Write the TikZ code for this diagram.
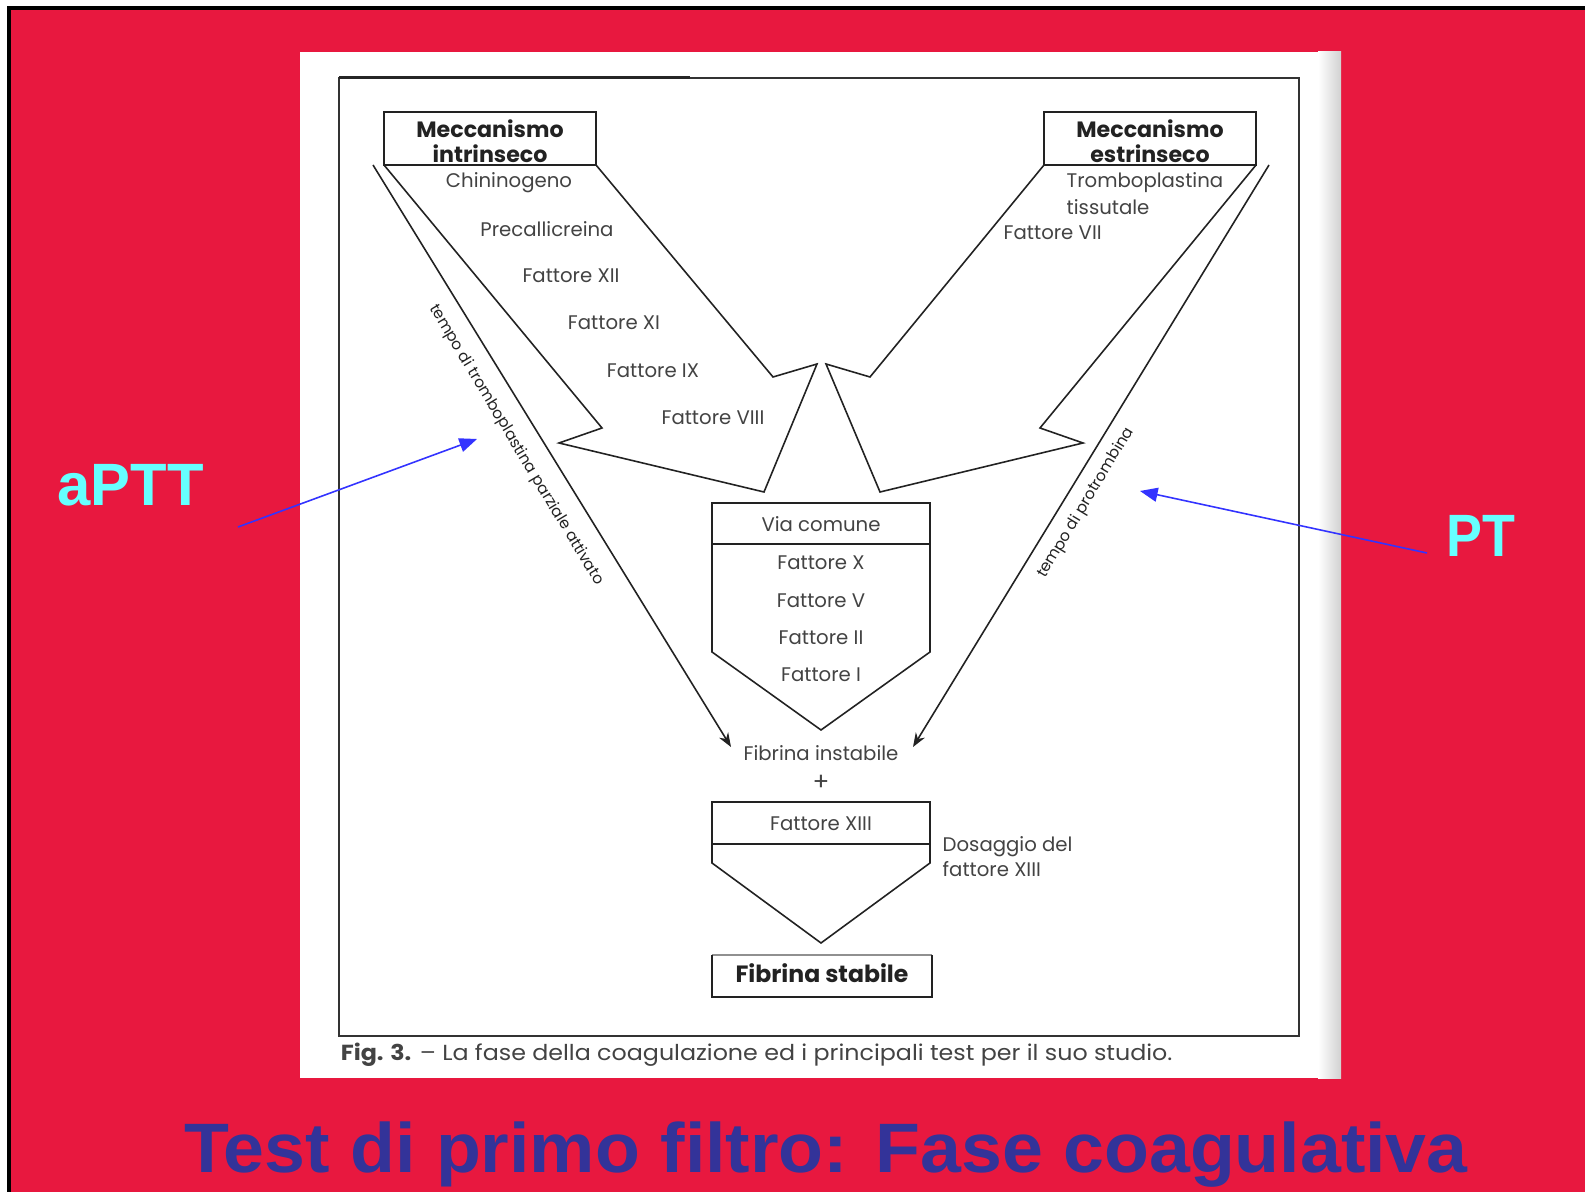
\documentclass[tikz,border=0pt]{standalone}
\usepackage{fontspec}
\setmainfont{Poppins}
\newfontfamily\arialf{Liberation Sans}
\usetikzlibrary{arrows.meta}
\definecolor{slidered}{HTML}{E8183F}
\definecolor{titleblue}{HTML}{333399}
\definecolor{labcyan}{HTML}{66FFFF}
\definecolor{arrblue}{HTML}{3333FF}
\definecolor{ink}{HTML}{222222}
\begin{document}
\begin{tikzpicture}[x=0.01cm,y=-0.01cm,
  line/.style={draw=ink, line width=0.45pt, line join=miter},
  hd/.style={font=\fontsize{6.3pt}{7.1pt}\selectfont\bfseries, align=center, text=ink, inner sep=0pt},
  fac/.style={font=\fontsize{5.6pt}{7.1pt}\selectfont, text=ink!85, inner sep=0pt},
  rot/.style={font=\fontsize{4.4pt}{5.5pt}\selectfont, text=ink, inner sep=0pt},
  lab/.style={font=\arialf\fontsize{17pt}{20pt}\selectfont\bfseries, text=labcyan, inner sep=0pt},
  barrow/.style={draw=arrblue, line width=0.45pt, -{Triangle[length=5pt,width=4pt]}},
  karrow/.style={draw=ink, line width=0.45pt, -{Stealth[length=4pt,width=3pt]}},
]
\useasboundingbox (0,0) rectangle (1585,1192);
% slide background
\fill[white] (0,0) rectangle (1585,1192);
\fill[slidered] (9,8) rectangle (1585,1192);
\draw[black, line width=0.9pt] (9,1192) -- (9,8) -- (1585,8);
% scanned page
\fill[white] (300,52) rectangle (1341,1078);
\shade[left color=white, right color=black!18] (1318,52) rectangle (1341,1078);
\draw[draw=black!80, line width=0.6pt] (339,78) rectangle (1299,1036);
\draw[draw=black!85, line width=0.85pt] (339,78) -- (690,78);

\begin{scope}[xshift=0.04cm]
% header boxes
\draw[line, line width=0.6pt] (380,112) rectangle (592,165);
\node[hd] (intr) at (486,141) {Meccanismo\\intrinseco};
\draw[line, line width=0.6pt] (1040,112) rectangle (1252,165);
\node[hd] (estr) at (1146,141) {Meccanismo\\estrinseco};

% funnels
\draw[line] (380,165) -- (598,428) -- (555,443) -- (760,492) -- (813,364) -- (769,377) -- (592,165);
\draw[line] (1040,165) -- (866,377) -- (822,364) -- (876,492) -- (1079,443) -- (1036,428) -- (1252,165);

% intrinsic factors
\node[fac] (chin) at (505,183) {Chininogeno};
\node[fac] (prec) at (543,229) {Precallicreina};
\node[fac] (f12) at (567,276) {Fattore XII};
\node[fac] (f11) at (610,323) {Fattore XI};
\node[fac] (f9) at (649,371) {Fattore IX};
\node[fac] (f8) at (709,418) {Fattore VIII};

% extrinsic factors
\node[fac, anchor=west] (tromb) at (1062,183) {Tromboplastina};
\node[fac, anchor=west] (tiss) at (1062,207) {tissutale};
\node[fac, anchor=west] (f7) at (999,233) {Fattore VII};

% common pathway
\draw[line] (708,503) -- (926,503) -- (926,652) -- (817,730) -- (708,652) -- cycle;
\draw[line] (708,544) -- (926,544);
\node[fac] (vc) at (817,524) {Via comune};
\node[fac] (fX) at (817,563) {Fattore X};
\node[fac] (fV) at (817,601) {Fattore V};
\node[fac] (fII) at (817,638) {Fattore II};
\node[fac] (fI) at (817,675) {Fattore I};

\node[fac] (fin) at (817,753) {Fibrina instabile};
\node[fac, font=\fontsize{7pt}{8pt}\selectfont] (plus) at (817,783) {+};

\draw[line] (708,802) -- (926,802) -- (926,863) -- (817,943) -- (708,863) -- cycle;
\draw[line] (708,844) -- (926,844);
\node[fac] (f13) at (817,824) {Fattore XIII};
\node[fac, anchor=west, align=left] (dos) at (938,857) {Dosaggio del\\fattore XIII};

\draw[line, draw=ink!50] (708,955) -- (928,955);
\draw[line, line width=0.6pt] (708,955) -- (708,997) -- (928,997) -- (928,955);
\node[hd, font=\fontsize{6.7pt}{7.5pt}\selectfont\bfseries] (fs) at (818,973) {Fibrina stabile};

% test arrows
\coordinate (la0) at (369,165);
\coordinate (la1) at (727,747);
\draw[karrow] (la0) -- (la1);
\coordinate (ra0) at (1265,165);
\coordinate (ra1) at (909,747);
\draw[karrow] (ra0) -- (ra1);
\node[rot, rotate=-59] (tptt) at (512,445) {tempo di tromboplastina parziale attivato};
\node[rot, rotate=59] (tpt) at (1082,503) {tempo di protrombina};

% caption
\node[anchor=west, font=\fontsize{6.2pt}{7pt}\selectfont, text=ink!85, inner sep=0pt, xscale=1.09] (cap) at (336,1055) {\textbf{Fig. 3.} -- La fase della coagulazione ed i principali test per il suo studio.};
\end{scope}

% slide labels
\node[lab, anchor=base west] (aptt) at (57,506) {aPTT};
\node[lab, anchor=base west, xscale=0.9] (pt) at (1446,557) {PT};
\coordinate (aptts) at (238,527);
\coordinate (apttt) at (477,439);
\draw[barrow] (aptts) -- (apttt);
\coordinate (pts) at (1427,553);
\coordinate (ptt) at (1140,491);
\draw[barrow] (pts) -- (ptt);

% title
\node[font=\arialf\bfseries\fontsize{19.9pt}{22pt}\selectfont, text=titleblue, anchor=base, xscale=1.05, inner sep=0pt] (title) at (826,1172) {Test di primo filtro: Fase coagulativa};
\end{tikzpicture}
\end{document}
